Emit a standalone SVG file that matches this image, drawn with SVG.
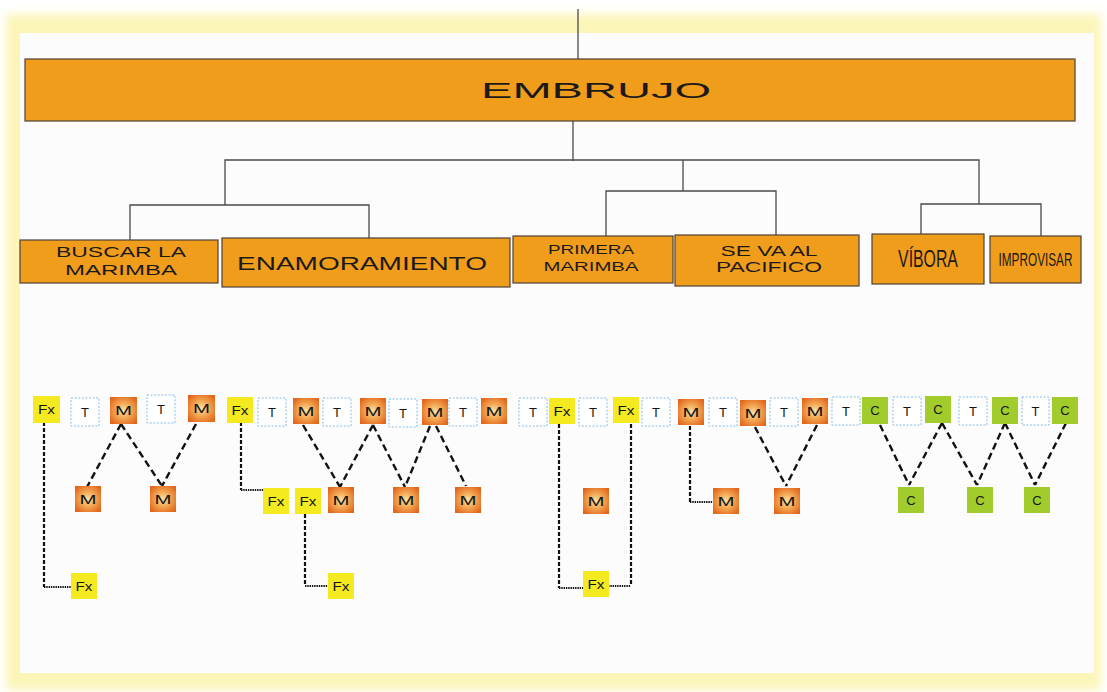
<svg xmlns="http://www.w3.org/2000/svg" width="1107" height="692" viewBox="0 0 1107 692">
<style>
.box{fill:#f19d1c;stroke:#4d4238;stroke-width:1.2}
.lbl{font-family:"Liberation Sans",Arial,sans-serif;fill:#1c1a18;text-anchor:middle}
.conn{stroke:#4a4a4a;stroke-width:1.3;fill:none}
.dg{stroke:#111;stroke-width:2.4;stroke-dasharray:7 4;fill:none}
.vd{stroke:#111;stroke-width:2.2;stroke-dasharray:4 2;fill:none}
.dt{stroke:#111;stroke-width:2;stroke-dasharray:1.4 0.9;fill:none}
.t{fill:#fff;stroke:#86bde8;stroke-width:1;stroke-dasharray:2 1.6}
.fx{fill:#f4ea1f}
.m{fill:url(#og)}
.c{fill:#a2cc2b}
.s{font-family:"Liberation Sans",Arial,sans-serif;font-size:13px;fill:#151515;text-anchor:middle}
</style>
<defs>
<radialGradient id="og" cx="50%" cy="50%" r="62%">
<stop offset="0" stop-color="#fbe3a8"/>
<stop offset="0.45" stop-color="#f3a955"/>
<stop offset="1" stop-color="#e2661c"/>
</radialGradient>
<filter id="blur" x="-5%" y="-5%" width="110%" height="110%"><feGaussianBlur stdDeviation="5"/></filter>
</defs>
<rect width="1107" height="692" fill="#ffffff"/>
<rect x="6" y="14" width="1095" height="676" fill="#fcf5b8" filter="url(#blur)"/>
<rect x="20" y="33" width="1074" height="640" fill="#fcfcfc"/>

<g id="connectors">
<line class="conn" x1="578" y1="9" x2="578" y2="59"/>
<polyline class="conn" points="573,121 573,161"/>
<polyline class="conn" points="225,205 225,160 979,160 979,204"/>
<polyline class="conn" points="130,240 130,205 369,205 369,238"/>
<polyline class="conn" points="683,160 683,191"/>
<polyline class="conn" points="606,236 606,191 776,191 776,235"/>
<polyline class="conn" points="921,234 921,204 1041,204 1041,236"/>
<line class="dg" x1="121" y1="424" x2="87" y2="487"/>
<line class="dg" x1="121" y1="424" x2="162" y2="486"/>
<line class="dg" x1="196" y1="424" x2="162" y2="486"/>
<polyline class="vd" points="44,422 44,587"/>
<line class="dt" x1="44" y1="587" x2="71" y2="587"/>
<polyline class="vd" points="241,422 241,490"/>
<line class="dt" x1="241" y1="490" x2="263" y2="490"/>
<polyline class="vd" points="305,514 305,586"/>
<line class="dt" x1="305" y1="586" x2="328" y2="586"/>
<line class="dg" x1="303" y1="425" x2="340" y2="487"/>
<line class="dg" x1="373" y1="425" x2="340" y2="487"/>
<line class="dg" x1="373" y1="425" x2="405" y2="487"/>
<line class="dg" x1="430" y1="426" x2="405" y2="487"/>
<line class="dg" x1="436" y1="426" x2="466" y2="486"/>
<polyline class="vd" points="559,424 559,588"/>
<line class="dt" x1="559" y1="588" x2="583" y2="588"/>
<polyline class="vd" points="631,424 631,586"/>
<line class="dt" x1="608" y1="586" x2="631" y2="586"/>
<polyline class="vd" points="690,426 690,502"/>
<line class="dt" x1="690" y1="502" x2="713" y2="502"/>
<line class="dg" x1="755" y1="427" x2="786" y2="486"/>
<line class="dg" x1="817" y1="425" x2="786" y2="486"/>
<line class="dg" x1="880" y1="425" x2="909" y2="485"/>
<line class="dg" x1="942" y1="423" x2="909" y2="485"/>
<line class="dg" x1="942" y1="423" x2="977" y2="485"/>
<line class="dg" x1="1005" y1="423" x2="977" y2="485"/>
<line class="dg" x1="1005" y1="423" x2="1035" y2="485"/>
<line class="dg" x1="1066" y1="423" x2="1035" y2="485"/>
</g>

<g id="embrujo">
<rect class="box" x="25" y="59" width="1050" height="62"/>
<text class="lbl" x="596" y="98" font-size="22" textLength="230" lengthAdjust="spacingAndGlyphs">EMBRUJO</text>
</g>
<g id="buscar">
<rect class="box" x="20" y="240" width="198" height="43"/>
<text class="lbl" x="121" y="257" font-size="15" textLength="130" lengthAdjust="spacingAndGlyphs">BUSCAR LA</text>
<text class="lbl" x="121" y="275" font-size="15" textLength="112" lengthAdjust="spacingAndGlyphs">MARIMBA</text>
</g>
<g id="enamoramiento">
<rect class="box" x="222" y="238" width="288" height="49"/>
<text class="lbl" x="362" y="270" font-size="19" textLength="250" lengthAdjust="spacingAndGlyphs">ENAMORAMIENTO</text>
</g>
<g id="primera">
<rect class="box" x="513" y="236" width="160" height="47"/>
<text class="lbl" x="591" y="254" font-size="13" textLength="86" lengthAdjust="spacingAndGlyphs">PRIMERA</text>
<text class="lbl" x="591" y="271" font-size="13" textLength="95" lengthAdjust="spacingAndGlyphs">MARIMBA</text>
</g>
<g id="pacifico">
<rect class="box" x="675" y="235" width="184" height="51"/>
<text class="lbl" x="769" y="256" font-size="14" textLength="97" lengthAdjust="spacingAndGlyphs">SE VA AL</text>
<text class="lbl" x="769" y="272" font-size="14" textLength="106" lengthAdjust="spacingAndGlyphs">PACIFICO</text>
</g>
<g id="vibora">
<rect class="box" x="872" y="234" width="112" height="50"/>
<text class="lbl" transform="translate(928,267) scale(0.66,1)" x="0" y="0" font-size="24">VÍBORA</text>
</g>
<g id="improvisar">
<rect class="box" x="990" y="236" width="91" height="47"/>
<text class="lbl" transform="translate(1035.5,266) scale(0.62,1)" x="0" y="0" font-size="19">IMPROVISAR</text>
</g>

<g id="g1-fx1"><rect class="fx" x="33" y="396" width="27" height="27"/><text class="s" x="46.5" y="414" textLength="17" lengthAdjust="spacingAndGlyphs">Fx</text></g>
<g id="g1-t1"><rect class="t" x="71" y="398" width="28" height="28"/><text class="s" x="85" y="416.5">T</text></g>
<g id="g1-m1"><rect class="m" x="110" y="397" width="27" height="27"/><text class="s" x="123.5" y="415" textLength="17" lengthAdjust="spacingAndGlyphs">M</text></g>
<g id="g1-t2"><rect class="t" x="147" y="395" width="28" height="28"/><text class="s" x="161" y="413.5">T</text></g>
<g id="g1-m2"><rect class="m" x="188" y="395" width="27" height="27"/><text class="s" x="201.5" y="413" textLength="17" lengthAdjust="spacingAndGlyphs">M</text></g>
<g id="g1-m3"><rect class="m" x="75" y="486" width="26" height="26"/><text class="s" x="88" y="503.5" textLength="17" lengthAdjust="spacingAndGlyphs">M</text></g>
<g id="g1-m4"><rect class="m" x="150" y="486" width="26" height="26"/><text class="s" x="163" y="503.5" textLength="17" lengthAdjust="spacingAndGlyphs">M</text></g>
<g id="g1-fx2"><rect class="fx" x="71" y="573" width="26" height="26"/><text class="s" x="84" y="590.5" textLength="17" lengthAdjust="spacingAndGlyphs">Fx</text></g>

<g id="g2-fx1"><rect class="fx" x="227" y="397" width="26" height="26"/><text class="s" x="240" y="414.5" textLength="17" lengthAdjust="spacingAndGlyphs">Fx</text></g>
<g id="g2-t1"><rect class="t" x="258" y="398" width="28" height="28"/><text class="s" x="272" y="416.5">T</text></g>
<g id="g2-m1"><rect class="m" x="293" y="398" width="26" height="26"/><text class="s" x="306" y="415.5" textLength="17" lengthAdjust="spacingAndGlyphs">M</text></g>
<g id="g2-t2"><rect class="t" x="323" y="398" width="28" height="28"/><text class="s" x="337" y="416.5">T</text></g>
<g id="g2-m2"><rect class="m" x="360" y="398" width="26" height="26"/><text class="s" x="373" y="415.5" textLength="17" lengthAdjust="spacingAndGlyphs">M</text></g>
<g id="g2-t3"><rect class="t" x="389" y="399" width="28" height="28"/><text class="s" x="403" y="417.5">T</text></g>
<g id="g2-m3"><rect class="m" x="422" y="399" width="26" height="26"/><text class="s" x="435" y="416.5" textLength="17" lengthAdjust="spacingAndGlyphs">M</text></g>
<g id="g2-t4"><rect class="t" x="449" y="398" width="28" height="28"/><text class="s" x="463" y="416.5">T</text></g>
<g id="g2-m4"><rect class="m" x="481" y="398" width="26" height="26"/><text class="s" x="494" y="415.5" textLength="17" lengthAdjust="spacingAndGlyphs">M</text></g>
<g id="g2-fx2"><rect class="fx" x="263" y="488" width="26" height="26"/><text class="s" x="276" y="505.5" textLength="17" lengthAdjust="spacingAndGlyphs">Fx</text></g>
<g id="g2-fx3"><rect class="fx" x="295" y="488" width="26" height="26"/><text class="s" x="308" y="505.5" textLength="17" lengthAdjust="spacingAndGlyphs">Fx</text></g>
<g id="g2-m5"><rect class="m" x="328" y="487" width="26" height="26"/><text class="s" x="341" y="504.5" textLength="17" lengthAdjust="spacingAndGlyphs">M</text></g>
<g id="g2-m6"><rect class="m" x="393" y="487" width="26" height="26"/><text class="s" x="406" y="504.5" textLength="17" lengthAdjust="spacingAndGlyphs">M</text></g>
<g id="g2-m7"><rect class="m" x="455" y="487" width="26" height="26"/><text class="s" x="468" y="504.5" textLength="17" lengthAdjust="spacingAndGlyphs">M</text></g>
<g id="g2-fx4"><rect class="fx" x="328" y="573" width="26" height="26"/><text class="s" x="341" y="590.5" textLength="17" lengthAdjust="spacingAndGlyphs">Fx</text></g>

<g id="g3-t1"><rect class="t" x="519" y="398" width="28" height="28"/><text class="s" x="533" y="416.5">T</text></g>
<g id="g3-fx1"><rect class="fx" x="549" y="398" width="26" height="26"/><text class="s" x="562" y="415.5" textLength="17" lengthAdjust="spacingAndGlyphs">Fx</text></g>
<g id="g3-t2"><rect class="t" x="579" y="398" width="28" height="28"/><text class="s" x="593" y="416.5">T</text></g>
<g id="g3-fx2"><rect class="fx" x="613" y="397" width="26" height="26"/><text class="s" x="626" y="414.5" textLength="17" lengthAdjust="spacingAndGlyphs">Fx</text></g>
<g id="g3-t3"><rect class="t" x="642" y="398" width="28" height="28"/><text class="s" x="656" y="416.5">T</text></g>
<g id="g3-m1"><rect class="m" x="678" y="399" width="26" height="26"/><text class="s" x="691" y="416.5" textLength="17" lengthAdjust="spacingAndGlyphs">M</text></g>
<g id="g3-t4"><rect class="t" x="709" y="398" width="28" height="28"/><text class="s" x="723" y="416.5">T</text></g>
<g id="g3-m2"><rect class="m" x="740" y="400" width="26" height="26"/><text class="s" x="753" y="417.5" textLength="17" lengthAdjust="spacingAndGlyphs">M</text></g>
<g id="g3-t5"><rect class="t" x="770" y="398" width="28" height="28"/><text class="s" x="784" y="416.5">T</text></g>
<g id="g3-m3"><rect class="m" x="802" y="398" width="26" height="26"/><text class="s" x="815" y="415.5" textLength="17" lengthAdjust="spacingAndGlyphs">M</text></g>
<g id="g3-m4"><rect class="m" x="583" y="488" width="26" height="26"/><text class="s" x="596" y="505.5" textLength="17" lengthAdjust="spacingAndGlyphs">M</text></g>
<g id="g3-m5"><rect class="m" x="713" y="488" width="26" height="26"/><text class="s" x="726" y="505.5" textLength="17" lengthAdjust="spacingAndGlyphs">M</text></g>
<g id="g3-m6"><rect class="m" x="774" y="488" width="26" height="26"/><text class="s" x="787" y="505.5" textLength="17" lengthAdjust="spacingAndGlyphs">M</text></g>
<g id="g3-fx3"><rect class="fx" x="583" y="571" width="26" height="26"/><text class="s" x="596" y="588.5" textLength="17" lengthAdjust="spacingAndGlyphs">Fx</text></g>

<g id="g4-t1"><rect class="t" x="832" y="397" width="28" height="28"/><text class="s" x="846" y="415.5">T</text></g>
<g id="g4-c1"><rect class="c" x="862" y="397" width="26" height="27"/><text class="s" x="875" y="415">C</text></g>
<g id="g4-t2"><rect class="t" x="893" y="397" width="28" height="28"/><text class="s" x="907" y="415.5">T</text></g>
<g id="g4-c2"><rect class="c" x="925" y="396" width="26" height="27"/><text class="s" x="938" y="414">C</text></g>
<g id="g4-t3"><rect class="t" x="959" y="397" width="28" height="28"/><text class="s" x="973" y="415.5">T</text></g>
<g id="g4-c3"><rect class="c" x="992" y="397" width="26" height="27"/><text class="s" x="1005" y="415">C</text></g>
<g id="g4-t4"><rect class="t" x="1022" y="397" width="27" height="28"/><text class="s" x="1035.5" y="415.5">T</text></g>
<g id="g4-c4"><rect class="c" x="1052" y="397" width="26" height="27"/><text class="s" x="1065" y="415">C</text></g>
<g id="g4-c5"><rect class="c" x="898" y="487" width="26" height="26"/><text class="s" x="911" y="504.5">C</text></g>
<g id="g4-c6"><rect class="c" x="967" y="487" width="26" height="26"/><text class="s" x="980" y="504.5">C</text></g>
<g id="g4-c7"><rect class="c" x="1024" y="487" width="26" height="26"/><text class="s" x="1037" y="504.5">C</text></g>
</svg>
